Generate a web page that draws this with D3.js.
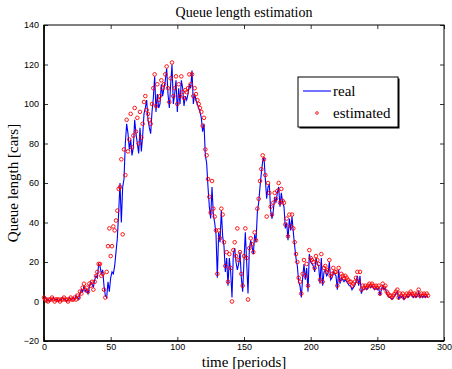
<!DOCTYPE html>
<html>
<head>
<meta charset="utf-8">
<script src="https://cdn.jsdelivr.net/npm/d3@7/dist/d3.min.js"></script>
<style>
  body { margin: 0; background: #fff; }
  .tick text { font-family: "Liberation Sans", Arial, sans-serif; font-size: 9px; fill: #000; }
  .lbl { font-family: "Liberation Serif", "Times New Roman", serif; fill: #000; }
</style>
</head>
<body>
<div id="chart"></div>
<script>
// real queue length, one value per period (t = 0..288)
const realQueue = [
  1,2,1,1,0,1,1,2,1,1,
  1,0,1,1,2,1,1,0,1,2,
  1,1,2,1,3,2,1,4,6,5,
  8,5,6,4,7,10,9,7,11,13,
  12,19,18,14,16,8,3,2,10,5,
  12,15,14,18,25,32,45,60,40,58,
  62,80,90,85,77,82,74,78,92,85,
  80,75,88,76,84,95,98,102,92,88,
  85,96,103,114,96,105,98,100,110,104,
  108,112,118,105,98,110,120,100,105,112,
  96,108,100,112,108,99,104,102,105,110,
  108,117,100,105,102,100,98,96,93,86,
  90,74,70,58,48,42,58,44,40,34,
  12,35,30,46,33,28,15,22,8,22,
  15,2,24,27,20,16,19,25,12,5,
  21,35,20,4,26,31,28,24,34,30,
  45,50,58,65,71,73,62,52,58,59,
  46,42,46,53,50,55,58,48,55,50,
  48,37,40,31,42,36,43,35,28,22,
  18,10,8,2,12,19,11,17,5,24,
  20,19,18,15,22,19,18,9,22,8,
  15,16,13,14,20,11,12,15,14,13,
  6,16,9,12,11,10,11,10,9,8,
  8,6,7,8,10,13,8,13,4,6,
  6,7,6,7,8,7,8,7,6,7,
  6,7,3,6,8,6,7,4,3,2,
  2,1,2,3,4,5,1,3,2,3,
  1,2,3,2,3,4,3,2,3,2,
  3,5,2,3,2,3,2,3,2
];
// estimated queue length (t = 0..288)
const estQueue = [
  2,1,1,0,1,1,2,1,0,1,
  1,1,0,1,1,2,1,1,0,1,
  2,1,1,2,1,3,2,5,4,7,
  9,6,7,5,9,8,10,6,10,13,
  15,19,19,13,14,6,2,15,28,37,
  23,28,38,36,41,46,57,58,72,34,
  77,64,92,76,82,95,78,84,98,86,
  93,80,96,83,90,101,104,97,95,92,
  90,100,108,115,99,110,102,104,112,108,
  110,115,119,108,101,113,121,104,108,114,
  100,110,104,114,106,103,107,106,108,115,
  110,115,104,108,105,102,100,98,96,89,
  93,77,74,62,53,45,61,47,43,36,
  14,36,32,47,44,30,18,25,10,24,
  17,0,26,30,23,37,21,25,14,8,
  23,37,22,1,27,32,29,25,35,31,
  47,52,61,67,74,72,64,43,60,55,
  48,44,50,55,52,56,60,50,57,51,
  50,39,42,33,44,38,44,37,30,24,
  20,12,10,4,14,21,13,19,8,26,
  22,21,20,17,23,21,19,11,24,10,
  17,18,15,16,21,13,14,17,15,15,
  8,17,11,14,13,12,13,12,11,10,
  10,8,9,10,12,15,10,15,6,8,
  7,8,7,8,9,8,9,8,7,8,
  7,8,4,7,9,7,8,5,4,3,
  3,2,3,4,5,6,2,4,3,4,
  2,3,4,3,4,5,4,3,4,3,
  4,6,3,4,3,4,3,4,3
];
const xTicks = [0, 50, 100, 150, 200, 250, 300];
const yTicks = [-20, 0, 20, 40, 60, 80, 100, 120, 140];
const legendNames = ['real', 'estimated'];

const W = 452, H = 369;
const margin = {top: 25, right: 8, bottom: 28, left: 44};
const width = W - margin.left - margin.right;
const height = H - margin.top - margin.bottom;

const svg = d3.select('#chart').append('svg').attr('width', W).attr('height', H);
const g = svg.append('g').attr('transform', 'translate(' + margin.left + ',' + margin.top + ')');

const x = d3.scaleLinear().domain([0, 300]).range([0, width]);
const y = d3.scaleLinear().domain([-20, 140]).range([height, 0]);

const fmt = d => d < 0 ? '\u2212' + Math.abs(d) : String(d);

// axes with inward ticks (matlab style)
g.append('g').attr('transform', 'translate(0,' + height + ')')
  .call(d3.axisBottom(x).tickValues(xTicks).tickSize(-4).tickPadding(3).tickFormat(fmt))
  .call(a => a.select('.domain').remove());
g.append('g').call(d3.axisTop(x).tickValues(xTicks).tickSize(-4).tickFormat(''))
  .call(a => a.select('.domain').remove());
g.append('g')
  .call(d3.axisLeft(y).tickValues(yTicks).tickSize(-4).tickPadding(5).tickFormat(fmt))
  .call(a => a.select('.domain').remove());
g.append('g').attr('transform', 'translate(' + width + ',0)')
  .call(d3.axisRight(y).tickValues(yTicks).tickSize(-4).tickFormat(''))
  .call(a => a.select('.domain').remove());
g.selectAll('.tick line').attr('stroke', '#000').attr('stroke-width', 0.8);

// frame
g.append('rect').attr('width', width).attr('height', height)
  .attr('fill', 'none').attr('stroke', '#000').attr('stroke-width', 1);
g.append('path').attr('d', 'M0,0V' + height + 'H' + width)
  .attr('fill', 'none').attr('stroke', '#000').attr('stroke-width', 1.6);

const line = d3.line().x((d, i) => x(i)).y(d => y(d));
g.append('path').datum(realQueue).attr('d', line)
  .attr('fill', 'none').attr('stroke', '#0000ff').attr('stroke-width', 1.1);

g.append('g').selectAll('circle').data(estQueue).join('circle')
  .attr('cx', (d, i) => x(i)).attr('cy', d => y(d)).attr('r', 1.8)
  .attr('fill', 'none').attr('stroke', '#ff0000').attr('stroke-width', 0.9);

// title and labels
svg.append('text').attr('class', 'lbl').attr('x', 244).attr('y', 17)
  .attr('text-anchor', 'middle').attr('font-size', 14).text('Queue length estimation');
svg.append('text').attr('class', 'lbl').attr('x', 244).attr('y', 367)
  .attr('text-anchor', 'middle').attr('font-size', 15).text('time [periods]');
svg.append('text').attr('class', 'lbl')
  .attr('transform', 'translate(18,' + (margin.top + height / 2) + ') rotate(-90)')
  .attr('text-anchor', 'middle').attr('font-size', 15).text('Queue length [cars]');

// legend
const lg = svg.append('g').attr('transform', 'translate(298,77)');
lg.append('rect').attr('x', 1.5).attr('y', 1.5).attr('width', 100).attr('height', 50)
  .attr('fill', '#000');
lg.append('rect').attr('width', 100).attr('height', 50)
  .attr('fill', '#fff').attr('stroke', '#000').attr('stroke-width', 1);
lg.append('line').attr('x1', 5).attr('x2', 33).attr('y1', 14).attr('y2', 14)
  .attr('stroke', '#0000ff').attr('stroke-width', 1.1);
lg.append('circle').attr('cx', 19).attr('cy', 36).attr('r', 1.3)
  .attr('fill', 'none').attr('stroke', '#ff0000').attr('stroke-width', 0.9);
lg.selectAll('text.leg').data(legendNames).join('text').attr('class', 'lbl leg')
  .attr('x', 35).attr('y', (d, i) => 19 + i * 22).attr('font-size', 15).text(d => d);
</script>
</body>
</html>
